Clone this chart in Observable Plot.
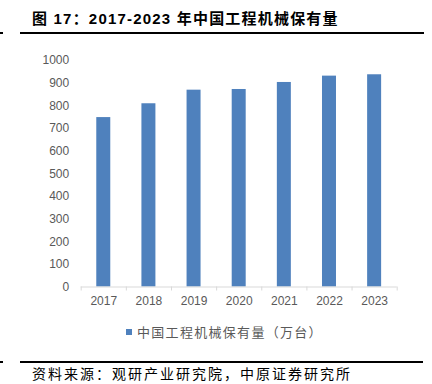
<!DOCTYPE html>
<html><head><meta charset="utf-8">
<script src="https://cdn.jsdelivr.net/npm/d3@7"></script>
<script src="https://cdn.jsdelivr.net/npm/@observablehq/plot@0.6"></script>
<style>
body{margin:0;background:#fff;}
#wrap{position:relative;width:432px;height:384px;overflow:hidden;background:#fff;font-family:"Liberation Sans","Noto Sans CJK SC",sans-serif;}
.rule{position:absolute;height:2px;background:#000;}
#title{position:absolute;left:32px;top:10px;height:18px;line-height:18px;font-size:15px;font-weight:bold;letter-spacing:1.2px;color:#000;white-space:nowrap;}
#chart{position:absolute;left:0;top:40px;}
#legend{position:absolute;left:126px;top:323px;height:18px;line-height:18px;font-size:13px;letter-spacing:1.3px;color:#595959;white-space:nowrap;font-family:"Noto Sans CJK SC",sans-serif;}
#legend .sw{display:inline-block;width:6px;height:6px;margin-right:5px;vertical-align:middle;position:relative;top:-1px;}
#source{position:absolute;left:32px;top:365px;height:16px;line-height:16px;font-size:14px;letter-spacing:2px;color:#000;white-space:nowrap;font-family:"Noto Sans CJK SC",sans-serif;}
</style></head><body>
<div id="wrap">
  <div id="title"></div>
  <div class="rule" style="top:32px;left:0;width:3px"></div>
  <div class="rule" style="top:32px;left:20px;width:404px"></div>
  <div id="chart"></div>
  <div id="legend"></div>
  <div class="rule" style="top:361px;left:0;width:3px"></div>
  <div class="rule" style="top:361px;left:20px;width:403px"></div>
  <div id="source"></div>
</div>
<script>
const titleText = "图 17：2017-2023 年中国工程机械保有量";
const sourceText = "资料来源：观研产业研究院，中原证券研究所";
const seriesName = "中国工程机械保有量（万台）";
const years = [2017, 2018, 2019, 2020, 2021, 2022, 2023];
const values = [748, 809, 869, 872, 903, 931, 937];
const yTicks = [0, 100, 200, 300, 400, 500, 600, 700, 800, 900, 1000];
const barColor = "#4f81bd";
const barHalf = 0.155;

document.getElementById("title").textContent = titleText;
document.getElementById("source").textContent = sourceText;
const lg = document.getElementById("legend");
const sw = document.createElement("span");
sw.className = "sw"; sw.style.background = barColor;
lg.appendChild(sw);
lg.appendChild(document.createTextNode(seriesName));

const data = years.map((y, i) => ({year: y, value: values[i]}));
const boundaries = years.map(y => y - 0.5).concat([years[years.length - 1] + 0.5]);

const plot = Plot.plot({
  width: 432,
  height: 272,
  marginTop: 20,
  marginBottom: 25.5,
  marginLeft: 80.7,
  marginRight: 35.3,
  style: {fontFamily: "Liberation Sans, Arial, sans-serif", fontSize: "12px", color: "#595959", background: "#fff"},
  x: {domain: [years[0] - 0.5, years[years.length - 1] + 0.5], label: null},
  y: {domain: [0, 1000], label: null},
  marks: [
    Plot.rectY(data, {x1: d => d.year - barHalf, x2: d => d.year + barHalf, y: "value", fill: barColor}),
    Plot.ruleY([0], {stroke: "#d9d9d9"}),
    Plot.axisY({ticks: yTicks, tickSize: 0, tickPadding: 12, fontSize: 12, tickFormat: d => String(d), label: null}),
    Plot.axisX({ticks: years, tickSize: 0, tickPadding: 9, fontSize: 12, tickFormat: d => String(d), label: null}),
    Plot.axisX({ticks: boundaries, tickSize: 4, tickFormat: () => "", stroke: "#d9d9d9", label: null})
  ]
});
document.getElementById("chart").appendChild(plot);
</script>
</body></html>
